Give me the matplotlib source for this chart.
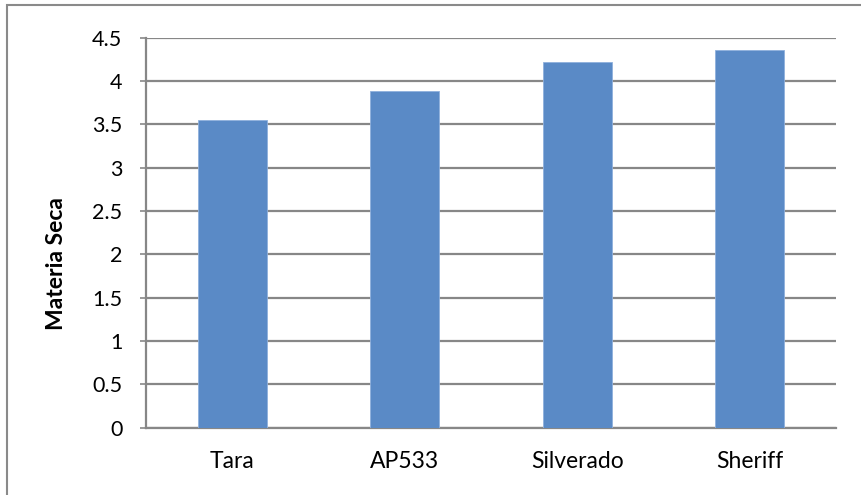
import matplotlib.pyplot as plt
from matplotlib.patches import Rectangle

variedades = ["Tara", "AP533", "Silverado", "Sheriff"]
materia_seca = [3.55, 3.89, 4.22, 4.36]
y_ticks = [0, 0.5, 1, 1.5, 2, 2.5, 3, 3.5, 4, 4.5]

plt.rcParams['font.family'] = ['Lato', 'DejaVu Sans']

fig = plt.figure(figsize=(8.61, 4.95), dpi=100)
ax = fig.add_axes([146 / 861, 1 - 427.7 / 495, (836 - 146) / 861, (427.7 - 37.7) / 495])

ax.bar(range(len(variedades)), materia_seca, width=0.4, color='#5a8ac6',
       edgecolor='#8fb0dd', linewidth=0.6, zorder=3)

ax.set_xlim(-0.5, len(variedades) - 0.5)
ax.set_ylim(0, 4.5)
ax.set_yticks(y_ticks)
ax.set_yticklabels([f"{t:g}" for t in y_ticks])
ax.set_xticks(range(len(variedades)))
ax.set_xticklabels(variedades)

ax.grid(axis='y', color='#878787', linewidth=1.6, zorder=0)
for s in ['top', 'right']:
    ax.spines[s].set_visible(False)
for s in ['left', 'bottom']:
    ax.spines[s].set_color('#878787')
    ax.spines[s].set_linewidth(1.6)

ax.tick_params(axis='y', length=4, width=1.2, color='#878787', labelsize=15.5, pad=13)
ax.tick_params(axis='x', length=0, labelsize=16.5, pad=17)

ax.set_ylabel("Materia Seca", fontsize=16.5, fontweight='bold')
ax.yaxis.set_label_coords(-0.114, 0.422)

# borde del grafico
fig.patches.append(Rectangle((7 / 861, -0.1), 1.2, 1 - 5 / 495 + 0.1,
                             transform=fig.transFigure, fill=False,
                             edgecolor='#8a8a8a', linewidth=1.5))

fig.savefig("out.png", dpi=100)
